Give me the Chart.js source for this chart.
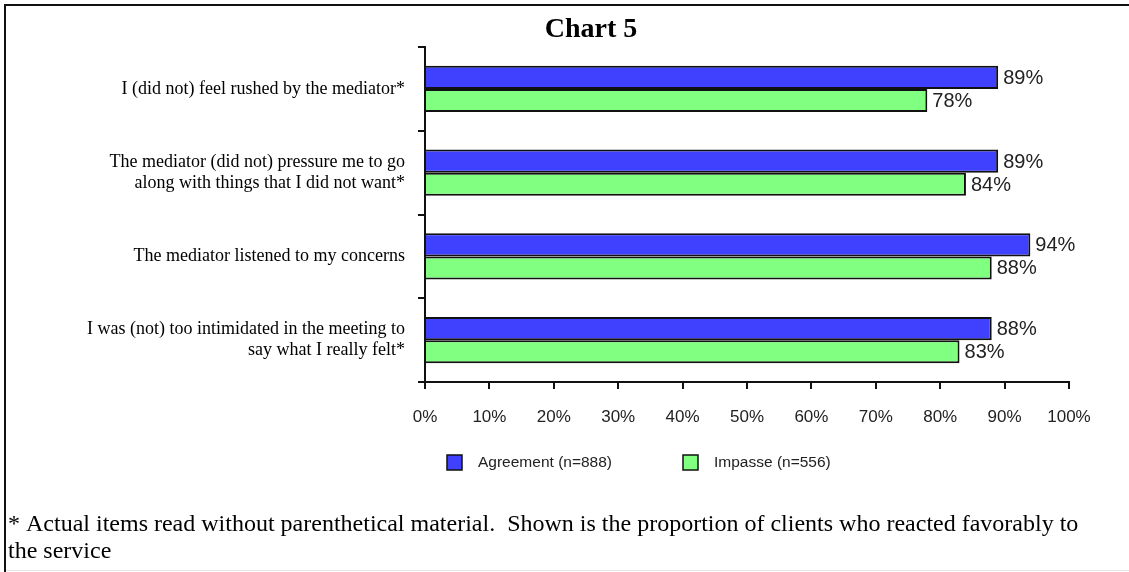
<!DOCTYPE html>
<html>
<head>
<meta charset="utf-8">
<script src="https://cdn.jsdelivr.net/npm/chart.js@4"></script>
<style>
    body { margin: 0; background: #fff; }
    #chart5 { display: block; }
</style>
</head>
<body>
<canvas id="chart5" width="1129" height="572"></canvas>
<script>
// data
const categories = [
    ["I (did not) feel rushed by the mediator*"],
    ["The mediator (did not) pressure me to go", "along with things that I did not want*"],
    ["The mediator listened to my concerns"],
    ["I was (not) too intimidated in the meeting to", "say what I really felt*"]
];
const agreement = [89, 89, 94, 88];
const impasse = [78, 84, 88, 83];
const seriesNames = ["Agreement (n=888)", "Impasse (n=556)"];
const titleText = "Chart 5";
const footnote = [
    "* Actual items read without parenthetical material.  Shown is the proportion of clients who reacted favorably to",
    "the service"
];

const SANS = "'Liberation Sans', Arial, sans-serif";
const SERIF = "'Liberation Serif', 'Times New Roman', serif";

// frame, title, footnote, value labels and legend
const decorations = {
    id: "decorations",
    afterDraw(chart) {
        const ctx = chart.ctx;
        const w = chart.width, h = chart.height;
        ctx.save();

        // outer frame
        ctx.strokeStyle = "#e4e4e4";
        ctx.lineWidth = 1;
        ctx.beginPath();
        ctx.moveTo(5, h - 1.5);
        ctx.lineTo(w, h - 1.5);
        ctx.stroke();
        ctx.strokeStyle = "#111";
        ctx.lineWidth = 2;
        ctx.beginPath();
        ctx.moveTo(5, h);
        ctx.lineTo(5, 5);
        ctx.lineTo(w, 5);
        ctx.stroke();

        // title
        ctx.fillStyle = "#000";
        ctx.font = "bold 28px " + SERIF;
        ctx.textAlign = "center";
        ctx.textBaseline = "middle";
        ctx.fillText(titleText, 591, 30);

        // value labels at bar ends
        ctx.font = "20px " + SANS;
        ctx.textAlign = "left";
        ctx.fillStyle = "#222";
        chart.data.datasets.forEach((ds, i) => {
            chart.getDatasetMeta(i).data.forEach((bar, j) => {
                ctx.fillText(ds.data[j] + "%", bar.x + 5, bar.y + 1);
            });
        });

        // legend
        const legendX = [447, 683];
        chart.data.datasets.forEach((ds, i) => {
            ctx.fillStyle = ds.backgroundColor;
            ctx.fillRect(legendX[i], 455, 15, 15);
            ctx.strokeStyle = "#111";
            ctx.lineWidth = 1.5;
            ctx.strokeRect(legendX[i], 455, 15, 15);
            ctx.fillStyle = "#222";
            ctx.font = "15.5px " + SANS;
            ctx.fillText(ds.label, legendX[i] + 31, 463);
        });

        // footnote
        ctx.fillStyle = "#000";
        ctx.font = "24px " + SERIF;
        footnote.forEach((line, i) => {
            ctx.fillText(line, 8, 525 + i * 27);
        });

        ctx.restore();
    }
};

new Chart(document.getElementById("chart5"), {
    type: "bar",
    data: {
        labels: categories,
        datasets: [
            {
                label: seriesNames[0],
                data: agreement,
                backgroundColor: "#4040ff",
                borderColor: "#111",
                borderWidth: 2,
                categoryPercentage: 0.55,
                barPercentage: 1
            },
            {
                label: seriesNames[1],
                data: impasse,
                backgroundColor: "#80ff80",
                borderColor: "#111",
                borderWidth: 2,
                categoryPercentage: 0.55,
                barPercentage: 1
            }
        ]
    },
    options: {
        indexAxis: "y",
        responsive: false,
        animation: false,
        layout: {
            padding: { top: 47, right: 60, bottom: 140, left: 6 }
        },
        plugins: {
            legend: { display: false },
            title: { display: false },
            tooltip: { enabled: false }
        },
        scales: {
            x: {
                min: 0,
                max: 100,
                ticks: {
                    stepSize: 10,
                    callback: v => v + "%",
                    color: "#222",
                    font: { family: SANS, size: 17 },
                    padding: 18,
                    maxRotation: 0
                },
                grid: {
                    drawOnChartArea: false,
                    drawTicks: true,
                    tickLength: 7,
                    color: "#111",
                    lineWidth: 2
                },
                border: { color: "#111", width: 2 },
                afterFit: scale => { scale.height = 50; }
            },
            y: {
                ticks: {
                    color: "#000",
                    font: { family: SERIF, size: 18, lineHeight: 1.17 },
                    padding: 13
                },
                grid: {
                    offset: true,
                    drawOnChartArea: false,
                    drawTicks: true,
                    tickLength: 7,
                    color: "#111",
                    lineWidth: 2
                },
                border: { color: "#111", width: 2 },
                afterFit: scale => { scale.width = 419; }
            }
        }
    },
    plugins: [decorations]
});
</script>
</body>
</html>
